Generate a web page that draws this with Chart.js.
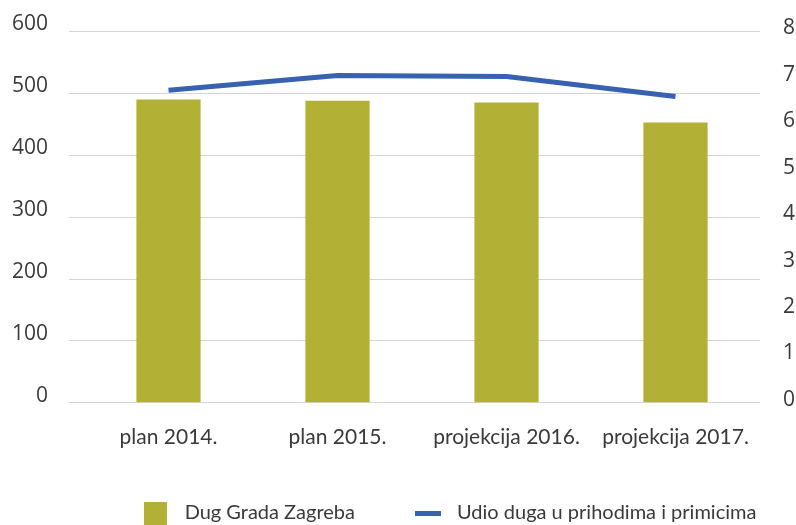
<!DOCTYPE html>
<html>
<head>
<meta charset="utf-8">
<script src="https://cdn.jsdelivr.net/npm/chart.js@4"></script>
<style>
  body { margin: 0; background: #fff; }
  canvas { display: block; }
</style>
</head>
<body>
<canvas id="dug-chart" width="796" height="525"></canvas>
<script>
// categories on the x axis
var godine = ['plan 2014.', 'plan 2015.', 'projekcija 2016.', 'projekcija 2017.'];
// bars, left axis
var dugGrada = [490, 488, 485, 453];
// line, right axis
var udioDuga = [6.73, 7.05, 7.03, 6.6];

var olive = 'rgb(178, 176, 53)';
var blue = 'rgb(54, 98, 176)';
var textColor = '#3a3a3a';

// little legend markers
function marker(w, h, color) {
    var c = document.createElement('canvas');
    c.width = w;
    c.height = h;
    var cx = c.getContext('2d');
    cx.fillStyle = color;
    cx.fillRect(0, 0, w, h);
    return c;
}
var squareMark = marker(23, 23, olive);
var lineMark = marker(26, 5, blue);

// nudge the legend to where it sits in the original
var legendShift = {
    id: 'legendShift',
    afterLayout: function(chart) {
        var lg = chart.legend;
        lg.left += 42; lg.right += 42;
        lg.top -= 23; lg.bottom -= 23;
    }
};

var ctx = document.getElementById('dug-chart').getContext('2d');

var chart = new Chart(ctx, {
    type: 'bar',
    data: {
        labels: godine,
        datasets: [{
            type: 'line',
            label: 'Udio duga u prihodima i primicima',
            data: udioDuga,
            borderColor: blue,
            backgroundColor: blue,
            borderWidth: 5,
            pointRadius: 0,
            tension: 0,
            yAxisID: 'y1',
            order: 0
        }, {
            label: 'Dug Grada Zagreba',
            data: dugGrada,
            backgroundColor: olive,
            categoryPercentage: 1,
            barPercentage: 0.38,
            yAxisID: 'y',
            order: 1
        }]
    },
    plugins: [legendShift],
    options: {
        responsive: false,
        animation: false,
        layout: {
            padding: { left: -9, right: -22, top: 31, bottom: -31 }
        },
        plugins: {
            tooltip: { enabled: false },
            legend: {
                position: 'bottom',
                labels: {
                    usePointStyle: true,
                    pointStyleWidth: 38,
                    padding: 54,
                    color: textColor,
                    font: { family: 'Lato', size: 20 },
                    generateLabels: function(chart) {
                        // bar first, then line, like the original
                        return [{
                            text: 'Dug Grada Zagreba',
                            pointStyle: squareMark,
                            fillStyle: olive,
                            strokeStyle: olive,
                            lineWidth: 0,
                            fontColor: textColor,
                            datasetIndex: 1
                        }, {
                            text: 'Udio duga u prihodima i primicima',
                            pointStyle: lineMark,
                            fillStyle: blue,
                            strokeStyle: blue,
                            lineWidth: 0,
                            fontColor: textColor,
                            datasetIndex: 0
                        }];
                    }
                }
            }
        },
        scales: {
            x: {
                grid: { display: false, drawTicks: false },
                border: { display: false },
                ticks: {
                    color: textColor,
                    padding: 22,
                    maxRotation: 0,
                    font: { family: 'Lato', size: 21 }
                }
            },
            y: {
                position: 'left',
                min: 0,
                max: 600,
                border: { display: false },
                grid: { color: '#d4d4d4', lineWidth: 1, tickLength: 15 },
                ticks: {
                    stepSize: 100,
                    color: textColor,
                    padding: 21,
                    labelOffset: -7,
                    font: { family: 'Open Sans', size: 21, lineHeight: 0.8 }
                }
            },
            y1: {
                position: 'right',
                min: 0,
                max: 8,
                border: { display: false },
                grid: { drawOnChartArea: false, drawTicks: false },
                ticks: {
                    stepSize: 1,
                    color: textColor,
                    padding: 23,
                    labelOffset: -3,
                    font: { family: 'Open Sans', size: 21, lineHeight: 0.8 }
                }
            }
        }
    }
});
</script>
</body>
</html>
